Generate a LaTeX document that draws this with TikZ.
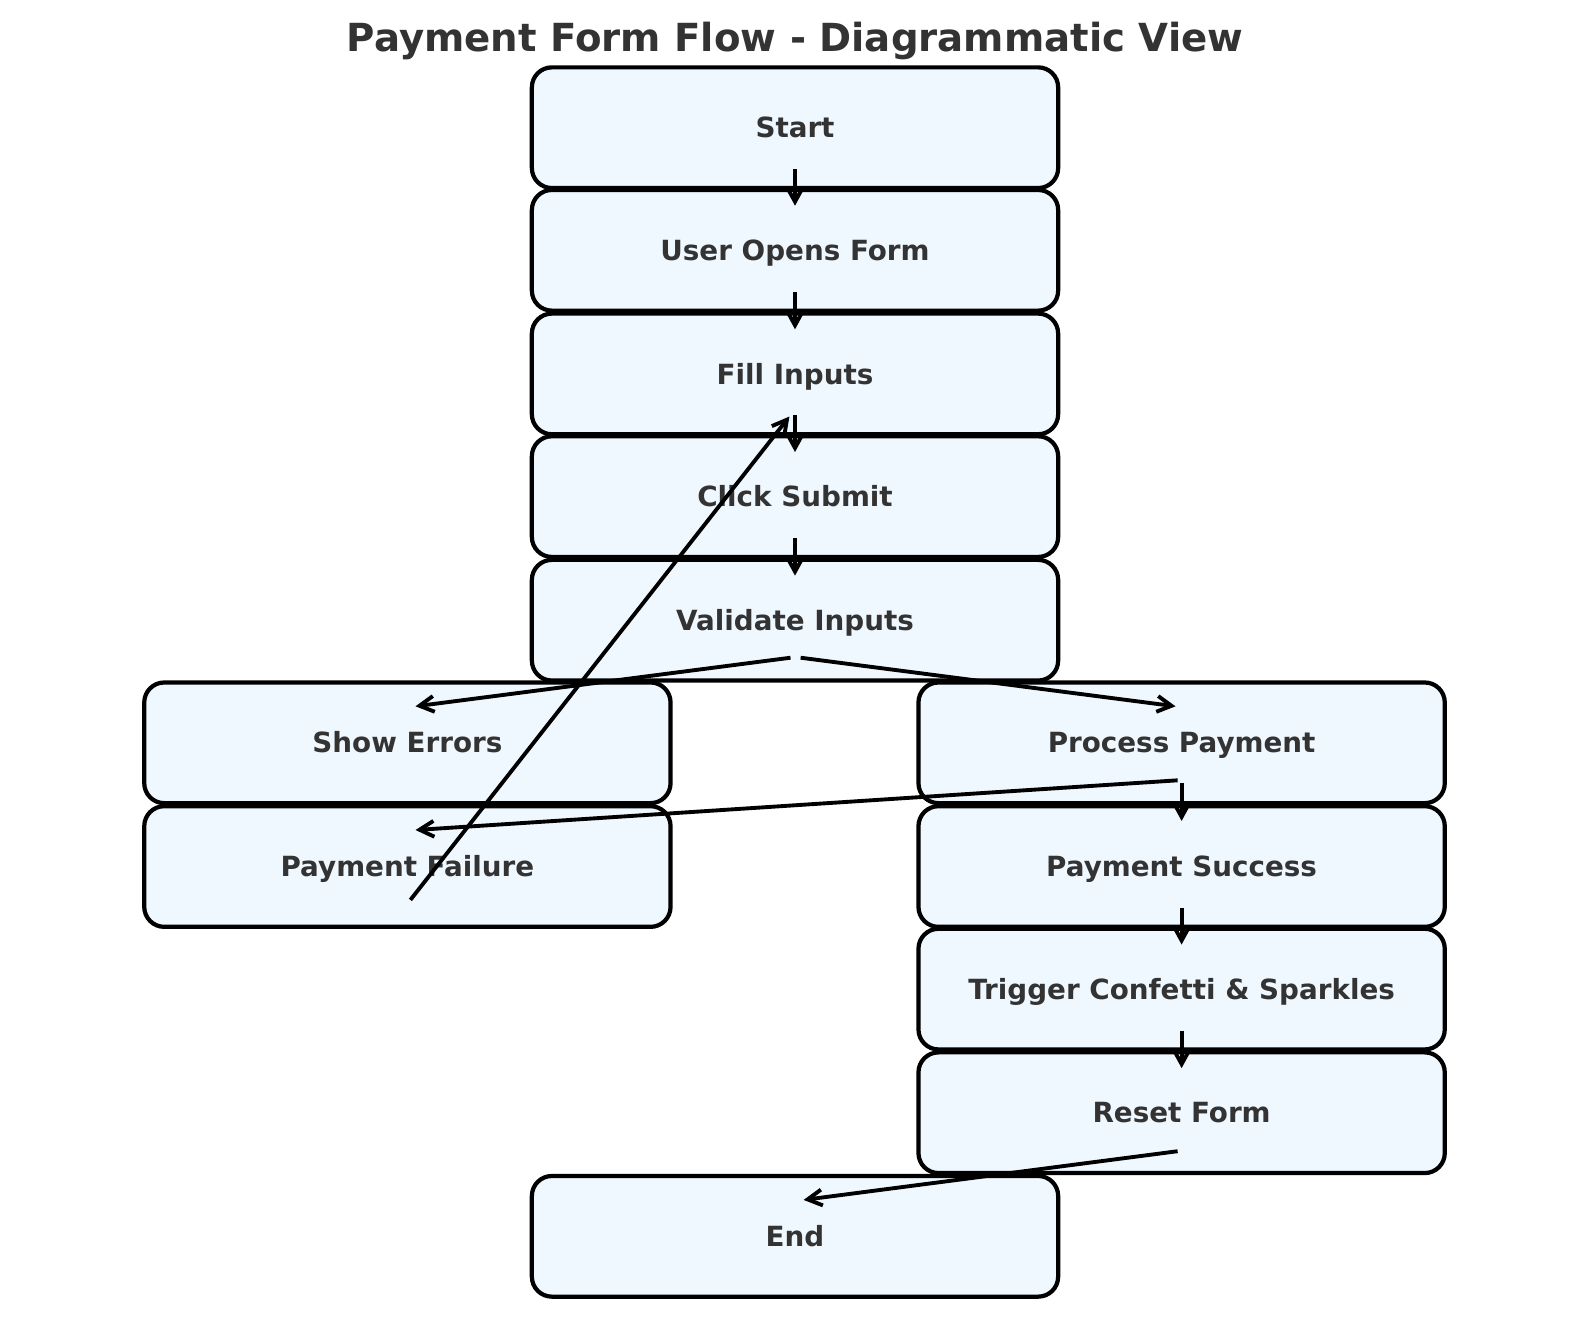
\documentclass[tikz,border=0pt]{standalone}
\usepackage{fontspec}
\setmainfont{DejaVu Sans}
\usetikzlibrary{arrows.meta,calc}
\definecolor{boxfill}{HTML}{F0F8FF}
\definecolor{txt}{HTML}{333333}
\begin{document}
\begin{tikzpicture}[x=0.01cm,y=-0.01cm,
  flowbox/.style={draw=black, line width=1.2pt, rounded corners=0.2cm, fill=boxfill,
    minimum width=5.26cm, minimum height=1.206cm, inner sep=0pt,
    text=txt, font=\bfseries\fontsize{7.9pt}{9pt}\selectfont,
    text height=5.76pt, text depth=0pt},
  titlenode/.style={text=txt, font=\bfseries\fontsize{11pt}{13pt}\selectfont,
    text height=8.02pt, text depth=0pt, inner sep=0pt},
  arr/.style={-{Straight Barb[length=4.1pt,width=4.5pt]}, line width=1.1pt, black}]
\useasboundingbox (0,0) rectangle (1589,1318);
\fill[white] (0,0) rectangle (1589,1318);
\node[titlenode] (title) at (795,37) {Payment Form Flow - Diagrammatic View};
\node[flowbox] (start) at (795,127.7) {Start};
\node[flowbox] (user) at (795,250.3) {User Opens Form};
\node[flowbox] (fill) at (795,373.9) {Fill Inputs};
\node[flowbox] (click) at (795,496.6) {Click Submit};
\node[flowbox] (validate) at (795,620.2) {Validate Inputs};
\node[flowbox] (show) at (407.4,742.8) {Show Errors};
\node[flowbox] (process) at (1181.6,742.8) {Process Payment};
\node[flowbox] (failure) at (407.4,866.5) {Payment Failure};
\node[flowbox] (success) at (1181.6,866.5) {Payment Success};
\node[flowbox] (trigger) at (1181.6,989.1) {Trigger Confetti \& Sparkles};
\node[flowbox] (reset) at (1181.6,1112.7) {Reset Form};
\node[flowbox] (endn) at (795,1236.3) {End};
\draw[arr] ($(start)+(0,41.5)$) -- ($(user)+(0,-44.6)$);
\draw[arr] ($(user)+(0,41.5)$) -- ($(fill)+(0,-44.6)$);
\draw[arr] ($(fill)+(0,41.5)$) -- ($(click)+(0,-44.6)$);
\draw[arr] ($(click)+(0,41.5)$) -- ($(validate)+(0,-44.6)$);
\draw[arr] ($(validate)+(-4.5,37.5)$) -- ($(show)+(8.1,-36.5)$);
\draw[arr] ($(validate)+(5.6,37.5)$) -- ($(process)+(-6.1,-36.5)$);
\draw[arr] ($(process)+(0,40.6)$) -- ($(success)+(0,-45.6)$);
\draw[arr] ($(process)+(-4,37.5)$) -- ($(failure)+(8.1,-36.5)$);
\draw[arr] ($(failure)+(3,33.4)$) -- ($(fill)+(-5.6,42.6)$);
\draw[arr] ($(success)+(0,41.5)$) -- ($(trigger)+(0,-44.6)$);
\draw[arr] ($(trigger)+(0,41.5)$) -- ($(reset)+(0,-44.6)$);
\draw[arr] ($(reset)+(-4,38.5)$) -- ($(endn)+(8.6,-36.4)$);
\end{tikzpicture}
\end{document}
